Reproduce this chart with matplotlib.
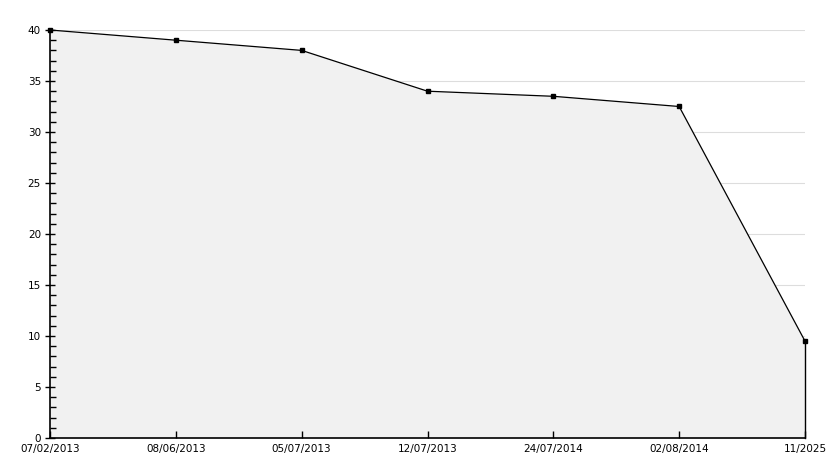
import numpy as np
from matplotlib import pyplot as plt
from matplotlib import ticker as mtick

dates = ["07/02/2013", "08/06/2013", "05/07/2013", "12/07/2013",
         "24/07/2014", "02/08/2014", "11/2025"]
values = [40, 39, 38, 34, 33.5, 32.5, 9.5]

x = np.arange(len(dates))

fig = plt.figure(figsize=(8.34, 4.68), dpi=100)
ax = fig.add_axes([50/834, 30/468, 755/834, 408/468])

ax.set_xlim(x[0], x[-1])
ax.set_ylim(0, 40)
ax.yaxis.set_major_locator(mtick.MultipleLocator(5))
ax.yaxis.set_minor_locator(mtick.MultipleLocator(1))

# light grid lines, drawn behind the filled area (axis itself stays on top)
for yv in ax.get_yticks():
    if 0 < yv <= 40:
        ax.axhline(yv, color="#dddddd", lw=0.8, zorder=0.5)

ax.fill_between(x, values, 0, color="#f1f1f1", lw=0, zorder=1)
ax.plot(x, values, color="black", lw=0.9, marker="s", ms=3.5, zorder=3,
        clip_on=False)
ax.plot([x[-1], x[-1]], [0, values[-1]], color="black", lw=1, zorder=3,
        clip_on=False)

ax.set_xticks(x)
ax.set_xticklabels(dates)

ax.tick_params(axis="y", which="major", direction="inout", length=7, width=1,
               labelsize=7.5, pad=3)
ax.tick_params(axis="y", which="minor", direction="in", length=4, width=1)
ax.tick_params(axis="x", direction="in", length=5, width=1, labelsize=7.5, pad=4)

ax.spines["top"].set_visible(False)
ax.spines["right"].set_visible(False)
ax.spines["left"].set_linewidth(1.2)
ax.spines["bottom"].set_linewidth(1.2)
ax.set_facecolor("white")

fig.savefig("out.png", dpi=100)
